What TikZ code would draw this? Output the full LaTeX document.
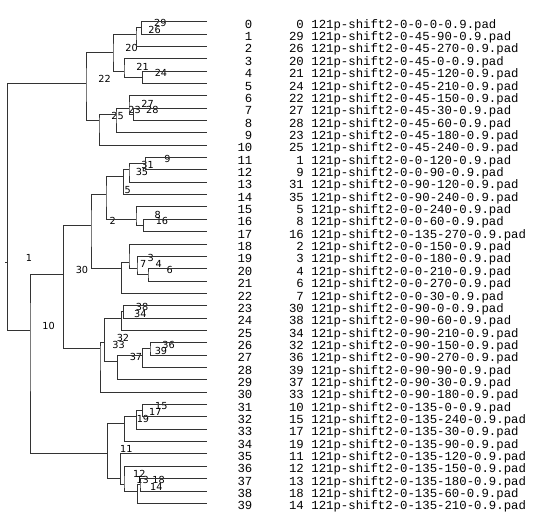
\documentclass[tikz,border=0pt]{standalone}
\usepackage{fontspec}
\setmonofont{Liberation Mono}
\newfontfamily\tagfont{DejaVu Sans}
\tikzset{
  branch/.style={draw=black!80, line width=1pt},
  tag/.style={anchor=east, inner sep=0pt, xshift=25pt, yshift=4.5pt, font=\tagfont\fontsize{9.7}{10}\selectfont},
  rowtext/.style={inner sep=0pt, yshift=-6.6pt, font=\ttfamily\fontsize{12.33}{13}\selectfont},
}

\begin{document}
\begin{tikzpicture}[x=1pt,y=-1pt]
\useasboundingbox (0,0) rectangle (540,521);
%% leaves and listing
\foreach \d/\a/\b [count=\i from 0] in {0/0/0, 29/45/90, 26/45/270, 20/45/0, 21/45/120, 24/45/210,
    22/45/150, 27/45/30, 28/45/60, 23/45/180, 25/45/240, 1/0/120, 9/0/90, 31/90/120, 35/90/240,
    5/0/240, 8/0/60, 16/135/270, 2/0/150, 3/0/180, 4/0/210, 6/0/270, 7/0/30, 30/90/0, 38/90/60,
    34/90/210, 32/90/150, 36/90/270, 39/90/90, 37/90/30, 33/90/180, 10/135/0, 15/135/240,
    17/135/30, 19/135/90, 11/135/120, 12/135/150, 13/135/180, 18/135/60, 14/135/210}{
  \coordinate (leaf\d) at (207,21.7+12.35*\i);
  \node[rowtext, anchor=base east] (idx\i) at (252.5,21.7+12.35*\i) {\i};
  \node[rowtext, anchor=base east] (id\i) at (304,21.7+12.35*\i) {\d};
  \node[rowtext, anchor=base west] (file\i) at (311.2,21.7+12.35*\i) {121p-shift2-0-\a-\b-0.9.pad};
}
%% merge points: label / height / mean row
\foreach \n/\x/\r in {29/141.7/0.5, 26/136/1, 24/142.3/4.5, 21/124/4, 20/113/2.5,
    28/133.7/7.5, 27/129/7, 23/116/7.5, 25/99/8, 22/86/5,
    9/145.7/11.5, 31/129/12, 35/123.3/12.5, 16/143.3/16.5, 8/136/16, 5/106/14,
    6/148/20.5, 4/137/20, 3/129/19.5, 7/121.5/20, 2/91/16.5,
    38/123.5/23.5, 34/121.7/24, 36/150/26.5, 39/142.3/27, 37/117.3/27.5, 32/104.3/26, 33/100/26.5,
    30/63.3/20.5, 15/142.7/31.5, 17/136.7/32, 19/124.3/32.5, 18/140/37.5, 14/137.7/38,
    13/124/37.5, 12/120.7/37, 11/107.7/35, 10/30/25, 1/7.3/19.5}{
  \coordinate (n\n) at (\x,21.7+12.35*\r);
  \node[tag] (t\n) at (n\n) {\n};
}
%% branches
\foreach \n/\a/\b in {29/leaf0/leaf29, 26/n29/leaf26, 24/leaf21/leaf24, 21/leaf20/n24, 20/n26/n21,
    28/leaf27/leaf28, 27/leaf22/n28, 23/n27/leaf23, 25/n23/leaf25, 22/n20/n25,
    9/leaf1/leaf9, 31/n9/leaf31, 35/n31/leaf35, 16/leaf8/leaf16, 8/leaf5/n16, 5/n35/n8,
    6/leaf4/leaf6, 4/leaf3/n6, 3/leaf2/n4, 7/n3/leaf7, 2/n5/n7,
    38/leaf30/leaf38, 34/n38/leaf34, 36/leaf32/leaf36, 39/n36/leaf39, 37/n39/leaf37,
    32/n34/n37, 33/n32/leaf33, 30/n2/n33,
    15/leaf10/leaf15, 17/n15/leaf17, 19/n17/leaf19, 18/leaf13/leaf18, 14/n18/leaf14,
    13/leaf12/n14, 12/leaf11/n13, 11/n19/n12, 10/n30/n11, 1/n22/n10}
  \draw[branch] (\a) -| (n\n) |- (\b);
\draw[branch] (n1) -- ++(-2.5,0);

\end{tikzpicture}
\end{document}
